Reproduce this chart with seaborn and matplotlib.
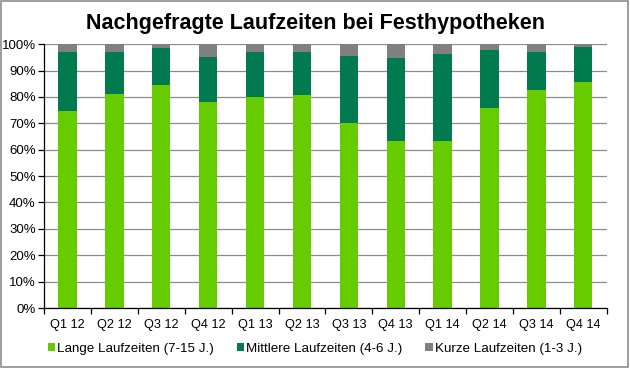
import matplotlib
matplotlib.use("Agg")
import matplotlib.pyplot as plt
from matplotlib.patches import Rectangle, Patch
import numpy as np
import pandas as pd
import seaborn as sns

quartale = ['Q1 12', 'Q2 12', 'Q3 12', 'Q4 12', 'Q1 13', 'Q2 13',
            'Q3 13', 'Q4 13', 'Q1 14', 'Q2 14', 'Q3 14', 'Q4 14']
lang = [74.5, 81.0, 84.4, 77.9, 79.8, 80.6, 70.0, 63.2, 63.2, 75.8, 82.6, 85.5]
mittel = [22.7, 16.2, 14.1, 17.2, 17.1, 16.3, 25.7, 31.4, 32.9, 21.8, 14.6, 13.6]
kurz = [2.8, 2.8, 1.5, 4.9, 3.1, 3.1, 4.3, 5.4, 3.9, 2.4, 2.8, 0.9]

labels = ['Lange Laufzeiten (7-15 J.)', 'Mittlere Laufzeiten (4-6 J.)', 'Kurze Laufzeiten (1-3 J.)']
farben = ['#66CC00', '#007A4E', '#808080']

df = pd.DataFrame({'quartal': quartale, 'lang': lang, 'mittel': mittel, 'kurz': kurz})
df['s2'] = df['lang'] + df['mittel']
df['s3'] = df['s2'] + df['kurz']

sns.set_theme(style="white")
plt.rcParams['font.family'] = ['Liberation Sans', 'DejaVu Sans']
plt.rcParams['text.color'] = 'black'
plt.rcParams['xtick.color'] = 'black'
plt.rcParams['ytick.color'] = 'black'

fig = plt.figure(figsize=(6.3, 3.68), dpi=100)
ax = fig.add_axes([0.070, 0.163, 0.893, 0.717])

ax.yaxis.grid(True, color='#8c8c8c', linewidth=0.9)
ax.set_axisbelow(True)

# stacked bars drawn as cumulative layers, top layer first
for col, farbe in zip(['s3', 's2', 'lang'], farben[::-1]):
    sns.barplot(data=df, x='quartal', y=col, color=farbe, width=0.39, saturation=1,
                linewidth=0, edgecolor='none', ax=ax, zorder=2)

ax.set_xlim(-0.5, len(quartale) - 0.5)
ax.set_ylim(0, 100)
ax.set_yticks(np.arange(0, 101, 10))
ax.set_yticklabels([f'{v}%' for v in range(0, 101, 10)], fontsize=9.5)
ax.set_xticks(range(len(quartale)))
ax.set_xticklabels(quartale, fontsize=9.2)
ax.set_xticks(np.arange(-0.5, len(quartale), 1), minor=True)
ax.tick_params(axis='x', which='major', length=0, pad=8)
ax.tick_params(axis='x', which='minor', length=4, width=0.9, color='black', bottom=True, direction='out')
ax.tick_params(axis='y', length=4, width=0.9, color='black', left=True, direction='out', pad=2)
ax.set_xlabel('')
ax.set_ylabel('')

for side in ['top', 'right']:
    ax.spines[side].set_visible(False)
for side in ['left', 'bottom']:
    ax.spines[side].set_color('black')
    ax.spines[side].set_linewidth(0.9)

fig.text(0.5, 0.937, 'Nachgefragte Laufzeiten bei Festhypotheken', ha='center', va='center',
         fontsize=15.5, fontweight='bold', color='black')

handles = [Patch(facecolor=c, edgecolor='none') for c in farben]
fig.legend(handles, labels, loc='center', bbox_to_anchor=(0.5, 0.052), ncol=3, frameon=False,
           fontsize=9.6, handlelength=0.55, handleheight=0.6, handletextpad=0.15, columnspacing=1.7)

fig.patches.append(Rectangle((0.002, 0.003), 0.995, 0.993, transform=fig.transFigure,
                             fill=False, edgecolor='#8c8c8c', linewidth=1.2))

fig.savefig('out.png', dpi=100)
